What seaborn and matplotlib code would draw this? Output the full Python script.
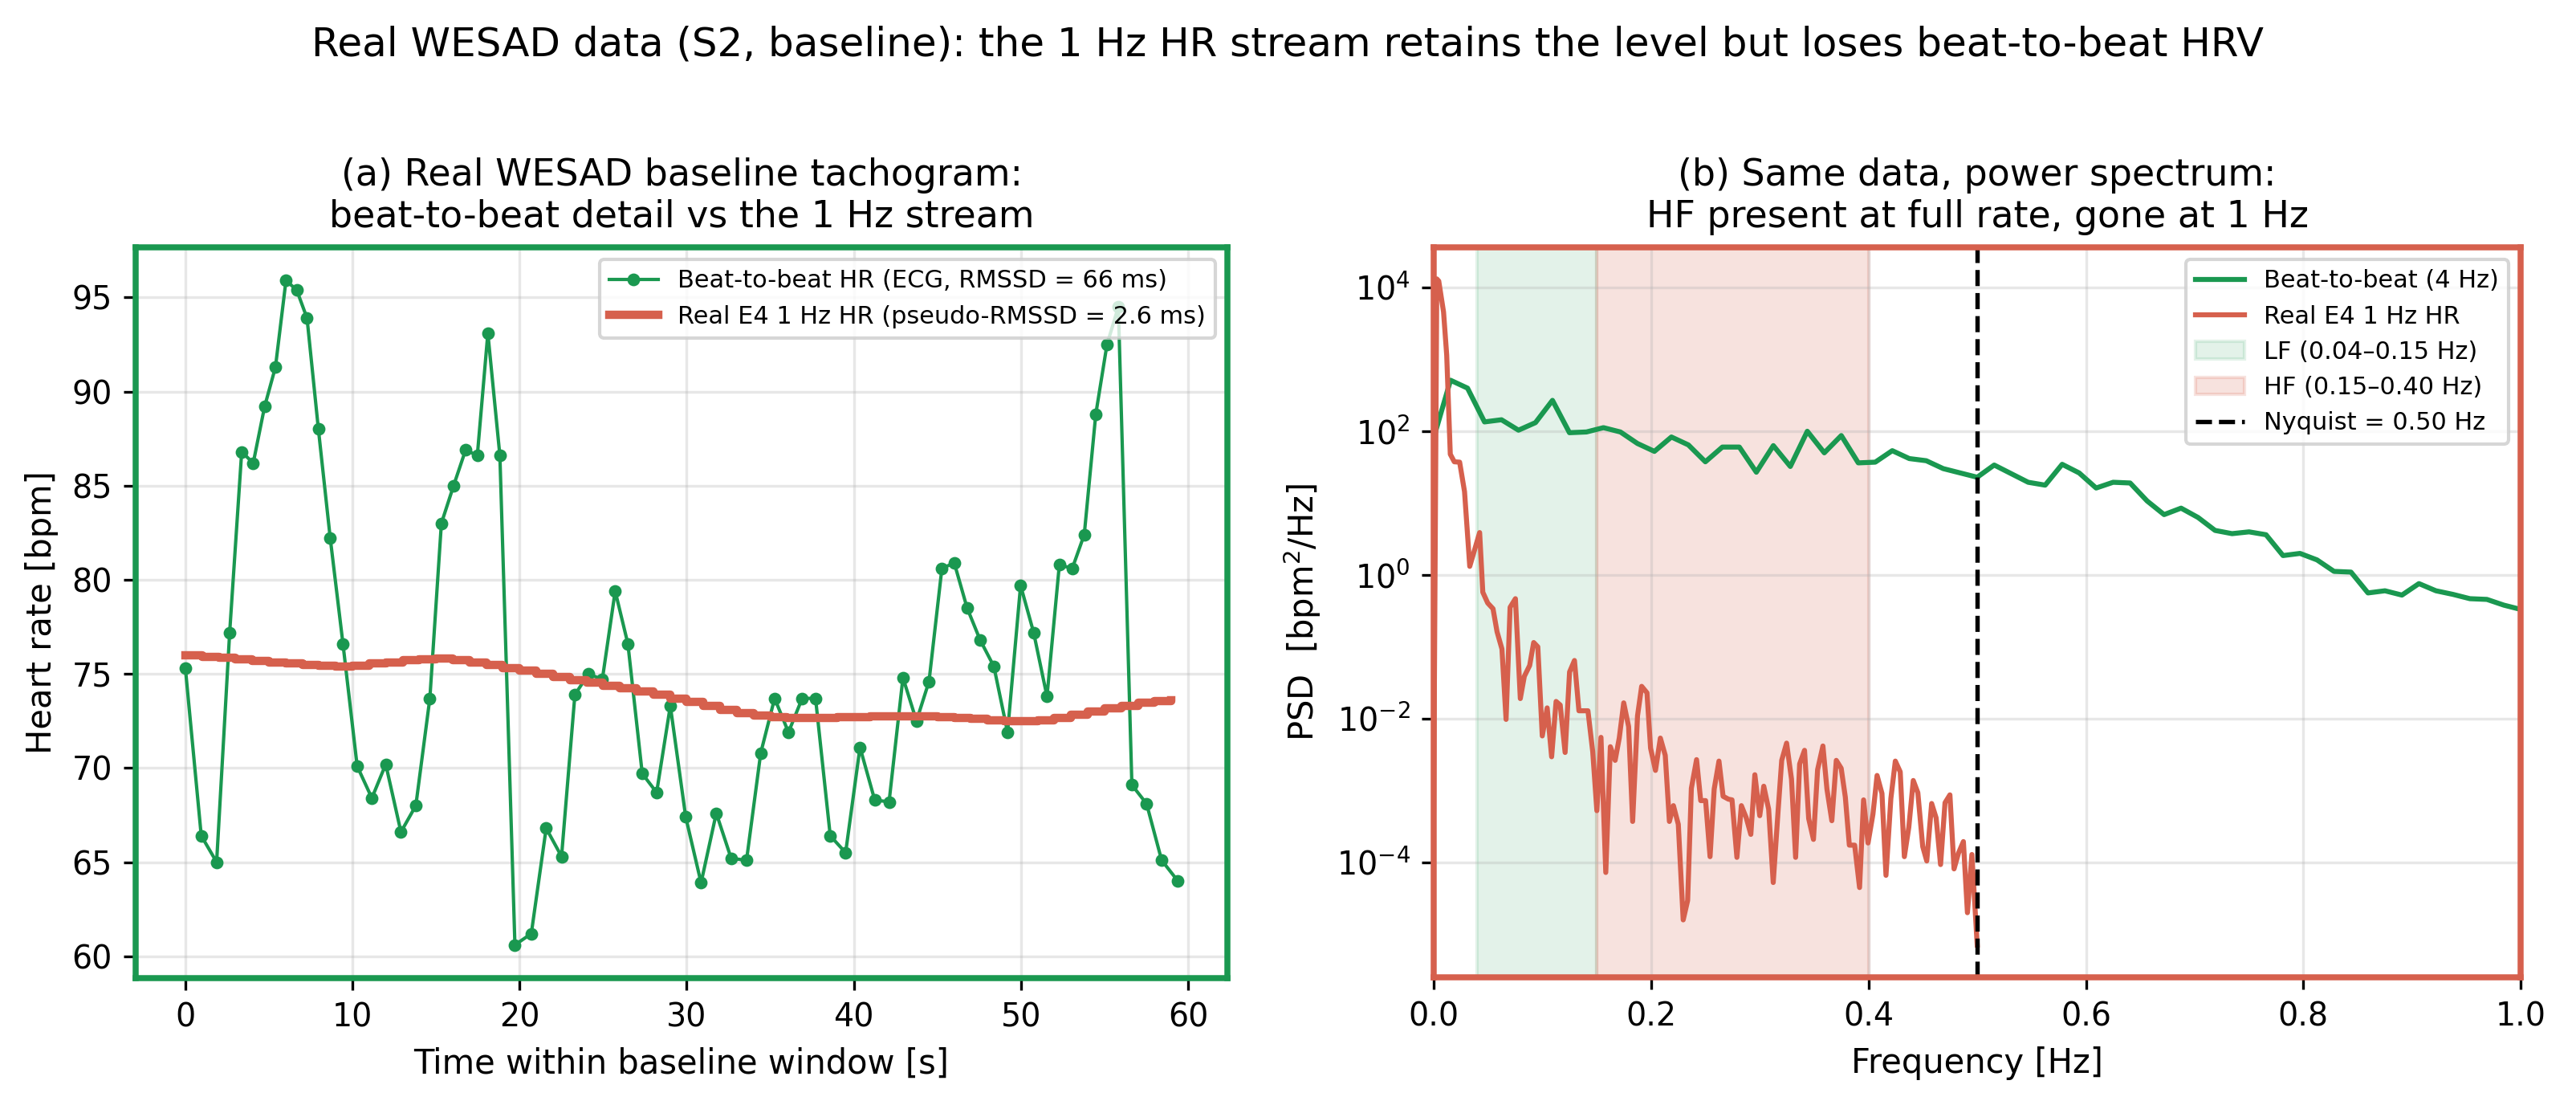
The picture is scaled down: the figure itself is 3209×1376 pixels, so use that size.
import numpy as np
import seaborn as sns
import matplotlib.pyplot as plt

plt.rcParams['font.family'] = ['DejaVu Sans']

GREEN = '#1a9850'
RED = '#d6604d'

# --- panel (a): beat-to-beat HR from ECG (time of beat [s], HR [bpm])
beat_t = [0.0, 0.95, 1.87, 2.65, 3.37, 4.06, 4.74, 5.39, 6.02, 6.66,
          7.28, 7.96, 8.67, 9.43, 10.28, 11.16, 11.99, 12.9, 13.79, 14.63,
          15.32, 16.05, 16.77, 17.47, 18.1, 18.82, 19.72, 20.7, 21.59, 22.51,
          23.31, 24.13, 24.95, 25.72, 26.48, 27.34, 28.2, 29.02, 29.94, 30.86,
          31.77, 32.66, 33.58, 34.43, 35.26, 36.09, 36.91, 37.71, 38.59, 39.51,
          40.37, 41.25, 42.11, 42.94, 43.75, 44.5, 45.27, 46.01, 46.78, 47.56,
          48.38, 49.2, 49.98, 50.76, 51.56, 52.3, 53.07, 53.79, 54.48, 55.15,
          55.83, 56.64, 57.52, 58.42, 59.39]
beat_hr = [75.3, 66.4, 65.0, 77.2, 86.8, 86.2, 89.2, 91.3, 95.9, 95.4,
           93.9, 88.0, 82.2, 76.6, 70.1, 68.4, 70.2, 66.6, 68.0, 73.7,
           83.0, 85.0, 86.9, 86.6, 93.1, 86.6, 60.6, 61.2, 66.8, 65.3,
           73.9, 75.0, 74.7, 79.4, 76.6, 69.7, 68.7, 73.3, 67.4, 63.9,
           67.6, 65.2, 65.1, 70.8, 73.7, 71.9, 73.7, 73.7, 66.4, 65.5,
           71.1, 68.3, 68.2, 74.8, 72.5, 74.6, 80.6, 80.9, 78.5, 76.8,
           75.4, 71.9, 79.7, 77.2, 73.8, 80.8, 80.6, 82.4, 88.8, 92.5,
           94.5, 69.1, 68.1, 65.1, 64.0]

# real E4 1 Hz HR stream (one value per second)
e4_t = np.arange(60)
e4_hr = [76.00, 75.92, 75.85, 75.78, 75.70, 75.62, 75.55, 75.48, 75.42, 75.40,
         75.45, 75.55, 75.62, 75.72, 75.78, 75.80, 75.75, 75.62, 75.48, 75.32,
         75.18, 75.02, 74.85, 74.68, 74.52, 74.38, 74.22, 74.08, 73.90, 73.70,
         73.50, 73.30, 73.10, 72.92, 72.80, 72.72, 72.68, 72.65, 72.66, 72.70,
         72.72, 72.74, 72.76, 72.76, 72.74, 72.72, 72.66, 72.60, 72.55, 72.50,
         72.48, 72.55, 72.68, 72.85, 73.00, 73.18, 73.32, 73.45, 73.55, 73.62]

# --- panel (b): PSDs, stored as log10(PSD)
beat_f = np.arange(65) / 64  # 4 Hz resampled tachogram, Welch bins
beat_logpsd = [1.90, 2.71, 2.60, 2.13, 2.16, 2.015, 2.12, 2.43, 1.98, 1.99,
               2.05, 1.99, 1.83, 1.72, 1.92, 1.81, 1.575, 1.78, 1.78, 1.43,
               1.80, 1.51, 2.00, 1.70, 1.94, 1.56, 1.57, 1.73, 1.62, 1.59,
               1.48, 1.42, 1.36, 1.53, 1.41, 1.29, 1.25, 1.54, 1.42, 1.21,
               1.29, 1.28, 1.03, 0.84, 0.93, 0.80, 0.62, 0.575, 0.60, 0.56,
               0.27, 0.30, 0.21, 0.05, 0.04, -0.25, -0.22, -0.28, -0.12, -0.22,
               -0.27, -0.33, -0.34, -0.42, -0.48]

e4_f = [0.0, 0.0030, 0.0048, 0.0092, 0.0121, 0.0154, 0.0191, 0.0240, 0.0285, 0.0333,
        0.0424, 0.0453, 0.0498, 0.0547, 0.0584, 0.0629, 0.0667, 0.0704, 0.0753, 0.0798,
        0.0835, 0.0884, 0.0921, 0.0959, 0.1000, 0.1045, 0.1086, 0.1127, 0.1165, 0.1210,
        0.1251, 0.1296, 0.1337, 0.1420, 0.1464, 0.1502, 0.1540, 0.1584, 0.1626, 0.1670,
        0.1708, 0.1749, 0.1794, 0.1831, 0.1876, 0.1914, 0.1963, 0.1996, 0.2041, 0.2086,
        0.2131, 0.2169, 0.2206, 0.2251, 0.2296, 0.2337, 0.2371, 0.2419, 0.2457, 0.2502,
        0.2543, 0.2581, 0.2625, 0.2663, 0.2712, 0.2745, 0.2790, 0.2831, 0.2876, 0.2918,
        0.2955, 0.3000, 0.3037, 0.3082, 0.3124, 0.3169, 0.3202, 0.3247, 0.3292, 0.3330,
        0.3367, 0.3412, 0.3450, 0.3494, 0.3532, 0.3581, 0.3618, 0.3663, 0.3704, 0.3749,
        0.3787, 0.3824, 0.3873, 0.3918, 0.3955, 0.3996, 0.4041, 0.4079, 0.4124, 0.4161,
        0.4206, 0.4247, 0.4292, 0.4330, 0.4371, 0.4412, 0.4454, 0.4499, 0.4536, 0.4581,
        0.4622, 0.4663, 0.4704, 0.4749, 0.4787, 0.4828, 0.4873, 0.4910, 0.4951, 0.5000]
e4_logpsd = [-3.5, 4.12, 4.09, 3.66, 3.06, 1.68, 1.575, 1.57, 1.16, 0.12,
             0.59, -0.24, -0.39, -0.47, -0.79, -1.03, -2.01, -0.45, -0.33, -1.72,
             -1.41, -1.26, -0.94, -1.00, -2.24, -1.85, -2.53, -1.76, -1.81, -2.47,
             -1.35, -1.19, -1.89, -1.89, -2.46, -3.28, -2.26, -4.14, -2.39, -2.58,
             -2.27, -1.78, -2.11, -3.43, -1.96, -1.55, -1.64, -2.41, -2.72, -2.27,
             -2.51, -3.43, -3.21, -3.47, -4.80, -4.53, -2.97, -2.57, -3.14, -3.14,
             -3.92, -2.98, -2.59, -3.08, -3.12, -3.13, -3.93, -3.21, -3.38, -3.61,
             -2.78, -3.35, -2.94, -3.26, -4.28, -3.28, -2.58, -2.34, -2.84, -3.93,
             -2.63, -2.44, -3.39, -3.68, -2.71, -2.38, -2.98, -3.42, -2.58, -2.69,
             -3.09, -3.76, -3.76, -4.35, -3.13, -3.73, -3.33, -2.79, -3.04, -4.18,
             -3.11, -2.59, -2.74, -3.92, -3.51, -2.86, -3.03, -3.78, -3.98, -3.18,
             -3.38, -4.03, -3.17, -3.06, -4.09, -3.87, -3.71, -4.70, -3.89, -5.15]

LF_BAND = (0.04, 0.15)
HF_BAND = (0.15, 0.40)
NYQUIST = 0.5

beat_psd = 10 ** np.array(beat_logpsd)
e4_psd = 10 ** np.array(e4_logpsd)

fig = plt.figure(figsize=(3209 / 300, 1376 / 300), dpi=300)
ax1 = fig.add_axes([0.0527, 0.1148, 0.4238, 0.6614])
ax2 = fig.add_axes([0.5565, 0.1155, 0.4221, 0.6607])

# ---- (a) tachogram
sns.lineplot(x=beat_t, y=beat_hr, ax=ax1, color=GREEN, lw=1.0, marker='o',
             markersize=3.3, markeredgecolor=GREEN, markeredgewidth=0.5,
             estimator=None, sort=False,
             label='Beat-to-beat HR (ECG, RMSSD = 66 ms)')
sns.lineplot(x=e4_t, y=e4_hr, ax=ax1, color=RED, lw=2.5, drawstyle='steps-post',
             estimator=None, sort=False,
             label='Real E4 1 Hz HR (pseudo-RMSSD = 2.6 ms)')
ax1.set_xlabel('Time within baseline window [s]', fontsize=10)
ax1.set_ylabel('Heart rate [bpm]', fontsize=10)
ax1.set_title('(a) Real WESAD baseline tachogram:\nbeat-to-beat detail vs the 1 Hz stream',
              fontsize=11)
ax1.grid(alpha=0.3)
ax1.legend(loc='upper right', fontsize=7.3)
for sp in ax1.spines.values():
    sp.set_color(GREEN)
    sp.set_linewidth(1.8)

# ---- (b) power spectrum
lf = ax2.axvspan(*LF_BAND, color=GREEN, alpha=0.12, label='LF (0.04\u20130.15 Hz)')
hf = ax2.axvspan(*HF_BAND, color=RED, alpha=0.18, label='HF (0.15\u20130.40 Hz)')
sns.lineplot(x=beat_f, y=beat_psd, ax=ax2, color=GREEN, lw=1.5,
             estimator=None, sort=False, label='Beat-to-beat (4 Hz)')
sns.lineplot(x=e4_f, y=e4_psd, ax=ax2, color=RED, lw=1.5,
             estimator=None, sort=False, label='Real E4 1 Hz HR')
ny = ax2.axvline(NYQUIST, color='black', ls='--', lw=1.3, label='Nyquist = 0.50 Hz')
ax2.set_yscale('log')
ax2.set_xlim(0, 1)
ax2.set_ylim(10 ** -5.6, 10 ** 4.56)
ax2.set_xlabel('Frequency [Hz]', fontsize=10)
ax2.set_ylabel('PSD  [bpm$^2$/Hz]', fontsize=10)
ax2.set_title('(b) Same data, power spectrum:\nHF present at full rate, gone at 1 Hz',
              fontsize=11)
ax2.grid(alpha=0.3)
h, l = ax2.get_legend_handles_labels()
order = ['Beat-to-beat (4 Hz)', 'Real E4 1 Hz HR', 'LF (0.04\u20130.15 Hz)',
         'HF (0.15\u20130.40 Hz)', 'Nyquist = 0.50 Hz']
hd = dict(zip(l, h))
ax2.legend([hd[k] for k in order], order, loc='upper right', fontsize=7.3)
for sp in ax2.spines.values():
    sp.set_color(RED)
    sp.set_linewidth(1.8)

for ax in (ax1, ax2):
    ax.tick_params(labelsize=9.5)

fig.suptitle('Real WESAD data (S2, baseline): the 1 Hz HR stream retains the level '
             'but loses beat-to-beat HRV', fontsize=12, y=0.977, va='top')

fig.savefig('out.png', dpi=300)
